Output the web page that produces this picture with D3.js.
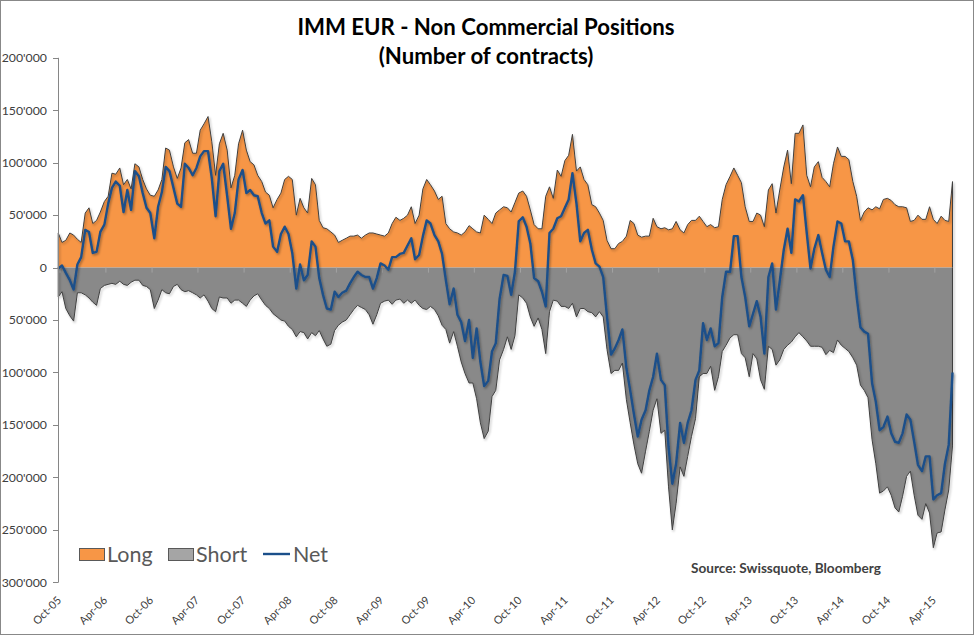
<!DOCTYPE html>
<html>
<head>
<meta charset="utf-8">
<script src="https://cdn.jsdelivr.net/npm/d3@7"></script>
<style>
  html, body { margin: 0; padding: 0; background: #fff; }
  svg { display: block; font-family: Lato, "Open Sans", sans-serif; }
</style>
</head>
<body>
<svg id="chart" width="974" height="635"></svg>
<script>
// ---------------- DATA (thousands of contracts, semi-monthly readings) ----------------
const longPos = [
  33,24,26,33,31,27,24,52,57,42,
  45,53,63,68,90,89,95,79,84,75,
  99,96,84,75,69,68,74,84,114,112,
  96,85,95,119,122,109,109,131,137,144,
  120,88,118,128,112,76,88,118,131,112,
  101,98,88,82,72,69,57,65,71,84,
  87,84,50,66,57,52,85,79,45,38,
  37,34,31,24,26,28,30,30,31,28,
  31,33,33,32,31,30,33,42,48,45,
  47,50,58,42,50,75,84,79,73,65,
  68,42,37,34,33,31,34,40,37,34,
  33,50,46,42,52,55,58,57,53,62,
  71,73,68,55,41,37,37,68,77,66,
  93,87,102,107,127,92,96,84,79,60,
  58,52,45,26,18,18,23,25,30,45,
  42,31,29,30,30,47,39,37,38,36,
  37,44,36,33,41,45,45,49,44,39,
  41,38,39,65,79,87,95,88,81,58,
  44,44,52,50,39,74,80,52,74,96,
  112,80,128,128,136,88,77,96,101,86,
  82,77,99,115,106,106,103,82,68,45,
  53,57,55,58,56,65,66,64,60,58,
  58,57,44,45,50,46,46,58,46,42,
  49,45,44,82
];
const shortPos = [
  -28,-23,-39,-46,-51,-24,-24,-26,-29,-33,
  -36,-20,-17,-16,-15,-16,-13,-16,-17,-14,
  -12,-12,-17,-18,-21,-39,-31,-21,-24,-25,
  -18,-16,-21,-23,-22,-24,-26,-29,-26,-32,
  -39,-42,-28,-29,-29,-34,-31,-31,-34,-37,
  -31,-27,-25,-31,-36,-39,-44,-47,-50,-51,
  -56,-59,-66,-61,-62,-68,-62,-65,-60,-68,
  -75,-73,-60,-55,-52,-50,-45,-40,-36,-38,
  -40,-45,-54,-45,-34,-32,-31,-35,-31,-30,
  -34,-31,-34,-31,-36,-39,-40,-37,-40,-46,
  -55,-59,-72,-61,-75,-90,-101,-110,-110,-125,
  -148,-163,-156,-123,-117,-88,-78,-66,-78,-65,
  -26,-29,-34,-47,-56,-48,-59,-82,-42,-31,
  -32,-37,-37,-39,-34,-47,-39,-39,-42,-43,
  -47,-42,-47,-78,-101,-98,-98,-91,-126,-148,
  -169,-187,-196,-175,-156,-136,-125,-158,-155,-209,
  -250,-225,-190,-199,-180,-161,-144,-104,-101,-101,
  -94,-117,-104,-80,-74,-67,-64,-64,-82,-86,
  -104,-82,-87,-107,-116,-75,-78,-93,-88,-78,
  -74,-71,-66,-62,-66,-70,-75,-75,-75,-76,
  -83,-79,-81,-69,-74,-77,-80,-86,-93,-112,
  -117,-124,-164,-187,-215,-213,-209,-217,-229,-233,
  -218,-199,-194,-217,-236,-240,-225,-234,-267,-253,
  -252,-231,-212,-170
];
const netPos = [
  -1,2,-5,-12,-21,3,10,36,34,14,
  15,34,41,61,76,82,78,53,74,55,
  92,87,71,57,52,28,58,72,96,92,
  76,61,58,99,95,88,95,106,111,111,
  85,49,92,99,68,37,52,84,93,71,
  74,69,68,52,42,45,20,15,32,39,
  32,14,-20,3,-12,-7,25,20,-10,-26,
  -39,-40,-23,-28,-24,-22,-15,-9,-4,-7,
  -9,-9,-20,-10,4,2,-2,10,10,13,
  14,21,28,8,12,30,45,42,31,25,
  13,-12,-35,-20,-45,-52,-70,-50,-86,-58,
  -90,-113,-108,-80,-72,-30,-7,-8,-26,-4,
  44,48,39,23,-10,-13,-23,-37,33,37,
  47,49,57,65,90,61,25,33,36,17,
  4,1,-9,-47,-83,-77,-69,-59,-96,-117,
  -140,-161,-145,-136,-117,-104,-82,-107,-112,-171,
  -206,-187,-148,-167,-148,-136,-107,-98,-53,-69,
  -58,-75,-72,-28,-4,-4,30,30,-9,-28,
  -56,-44,-32,-47,-82,-9,4,-40,-13,17,
  37,14,65,63,69,33,-1,18,31,14,
  -2,-9,20,44,42,25,25,7,-28,-57,
  -61,-63,-110,-128,-155,-152,-142,-158,-166,-167,
  -158,-140,-145,-166,-188,-194,-180,-180,-221,-217,
  -215,-187,-169,-100
];
// categories: reporting dates, roughly every half month from late Sep 2005
const firstDate = new Date(2005, 8, 24);
const dates = longPos.map((_, i) => d3.timeDay.offset(firstDate, Math.round(i * 15.22)));
const yTicks = [200000, 150000, 100000, 50000, 0, -50000, -100000, -150000, -200000, -250000, -300000];
const xTickDates = d3.range(20).map(k => new Date(2005, 9 + 6 * k, 1));
const seriesNames = ["Long", "Short", "Net"];
const titleLines = ["IMM EUR - Non Commercial Positions", "(Number of contracts)"];
const sourceText = "Source: Swissquote, Bloomberg";

// ---------------- CHART ----------------
const svg = d3.select("#chart");
const W = 974, H = 635;
const C = { long: "#F79646", short: "#898989", shortLegend: "#A5A5A5", net: "#1B4F8A", edge: "#404040", axis: "#868686", text: "#404040" };

const defs = svg.append("defs");
const f = defs.append("filter").attr("id", "shadow").attr("x", "-5%").attr("y", "-5%").attr("width", "110%").attr("height", "110%");
f.append("feDropShadow").attr("dx", 1.2).attr("dy", 1.5).attr("stdDeviation", 1.1).attr("flood-color", "#000").attr("flood-opacity", 0.35);

svg.append("rect").attr("x", 0.5).attr("y", 0.5).attr("width", W - 1).attr("height", H - 1)
  .attr("fill", "#fff").attr("stroke", "#888").attr("stroke-width", 1);

const x = d3.scaleTime().domain([new Date(2005, 9, 1), new Date(2015, 9, 1)]).range([60, 981]);
const y = d3.scaleLinear().domain([-300000, 200000]).range([582.3, 57.8]);

const pts = (arr) => arr.map((v, i) => ({ d: dates[i], v: v * 1000 }));
const L = pts(longPos), S = pts(shortPos), N = pts(netPos);

const area = d3.area().x(p => x(p.d)).y0(y(0)).y1(p => y(p.v));
const outline = (arr) => {
  const p = d3.path();
  p.moveTo(x(arr[0].d), y(0));
  arr.forEach(q => p.lineTo(x(q.d), y(q.v)));
  p.lineTo(x(arr[arr.length - 1].d), y(0));
  return p.toString();
};

const g = svg.append("g");
g.append("path").attr("d", area(L)).attr("fill", C.long);
g.append("path").attr("d", area(S)).attr("fill", C.short);
g.append("path").attr("d", outline(L)).attr("fill", "none").attr("stroke", C.edge).attr("stroke-width", 1).attr("filter", "url(#shadow)");
g.append("path").attr("d", outline(S)).attr("fill", "none").attr("stroke", C.edge).attr("stroke-width", 1).attr("filter", "url(#shadow)");

// x-axis tick marks along the zero line
g.selectAll("line.xt").data(xTickDates).join("line")
  .attr("x1", d => x(d)).attr("x2", d => x(d)).attr("y1", y(0)).attr("y2", y(0) + 5)
  .attr("stroke", "#a3a3a3").attr("stroke-width", 1);

g.append("path").attr("d", d3.line().x(p => x(p.d)).y(p => y(p.v))(N))
  .attr("fill", "none").attr("stroke", C.net).attr("stroke-width", 2.4).attr("stroke-linejoin", "round")
  .attr("filter", "url(#shadow)");

// y axis
const fmt = v => v === 0 ? "0" : d3.format(",")(Math.abs(v)).replace(/,/g, "'");
const ya = svg.append("g");
ya.append("line").attr("x1", 58.5).attr("x2", 58.5).attr("y1", y(200000)).attr("y2", y(-300000)).attr("stroke", C.axis);
ya.selectAll("line.t").data(yTicks).join("line").attr("class", "t")
  .attr("x1", 53).attr("x2", 58.5).attr("y1", d => Math.round(y(d)) + 0.5).attr("y2", d => Math.round(y(d)) + 0.5).attr("stroke", C.axis);
ya.selectAll("text").data(yTicks).join("text")
  .attr("x", 47).attr("y", d => y(d) + 4.3).attr("text-anchor", "end")
  .attr("font-size", 12.3).attr("fill", C.text).text(fmt);

// x labels
const tf = d3.timeFormat("%b-%y");
svg.append("g").selectAll("text").data(xTickDates).join("text")
  .attr("transform", d => `translate(${x(d) + 2},601) rotate(-45)`)
  .attr("text-anchor", "end").attr("font-size", 11).attr("fill", C.text).text(tf);

// title
svg.append("text").attr("x", 486).attr("y", 35).attr("text-anchor", "middle")
  .attr("font-size", 22.2).attr("font-weight", "bold").attr("fill", "#000").text(titleLines[0]);
svg.append("text").attr("x", 486).attr("y", 64).attr("text-anchor", "middle")
  .attr("font-size", 22.2).attr("font-weight", "bold").attr("fill", "#000").text(titleLines[1]);

// legend
const lg = svg.append("g").attr("font-size", 21.5).attr("fill", "#595959");
lg.append("rect").attr("x", 79.5).attr("y", 548.5).attr("width", 25).attr("height", 12).attr("fill", C.long).attr("stroke", "#595959");
lg.append("text").attr("x", 107).attr("y", 561.5).text(seriesNames[0]);
lg.append("rect").attr("x", 168.5).attr("y", 548.5).attr("width", 25).attr("height", 12).attr("fill", C.shortLegend).attr("stroke", "#595959");
lg.append("text").attr("x", 196).attr("y", 561.5).text(seriesNames[1]);
lg.append("line").attr("x1", 263).attr("x2", 290).attr("y1", 554).attr("y2", 554).attr("stroke", C.net).attr("stroke-width", 2.4);
lg.append("text").attr("x", 293).attr("y", 561.5).text(seriesNames[2]);

// source
svg.append("text").attr("x", 691).attr("y", 572.5).attr("font-size", 13.6).attr("font-weight", "bold")
  .attr("fill", C.text).text(sourceText);
</script>
</body>
</html>
